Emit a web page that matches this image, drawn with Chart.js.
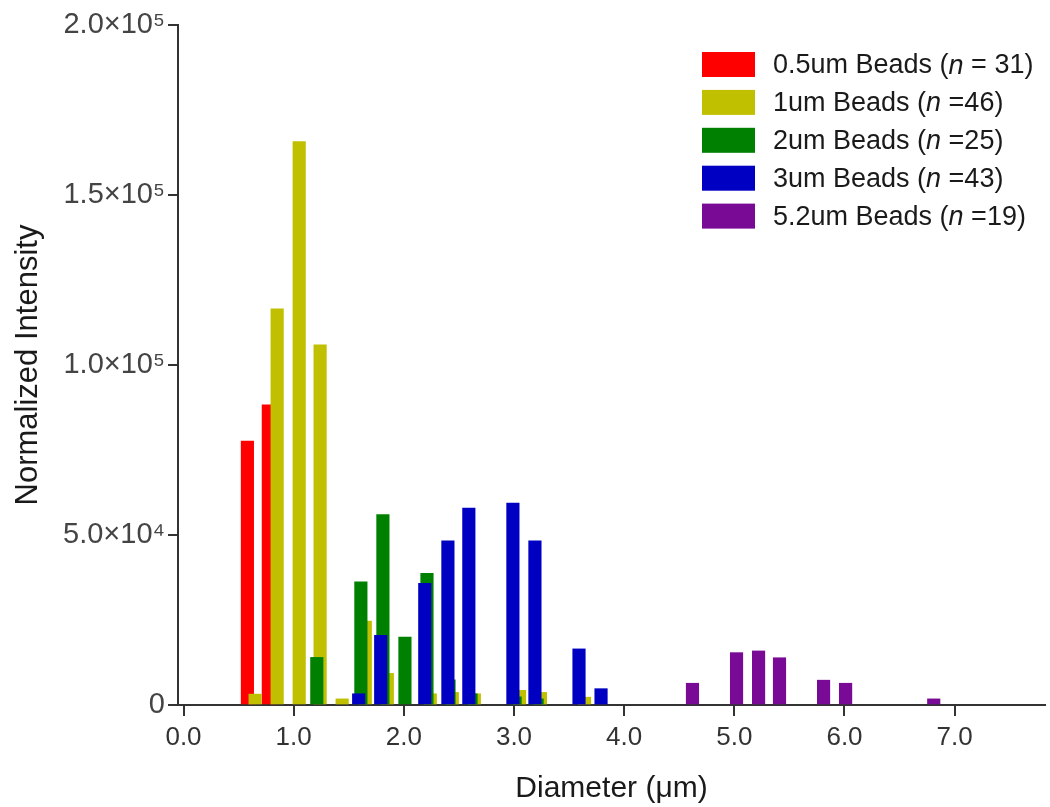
<!DOCTYPE html>
<html lang="en">
<head>
<meta charset="UTF-8">
<title>Bead diameter vs normalized intensity</title>
<style>
  body { margin: 0; background: #fff; }
  #wrap { width: 1050px; height: 807px; }
</style>
<script src="https://cdn.jsdelivr.net/npm/chart.js@4.4.6/dist/chart.umd.min.js"></script>
</head>
<body>
<div id="wrap"><canvas id="beadChart"></canvas></div>
<script>
// legend text and colours, one per bead size
const beadLabels = ['0.5um Beads', '1um Beads', '2um Beads', '3um Beads', '5.2um Beads'];
const beadCounts = [' = 31', ' =46', ' =25', ' =43', ' =19'];
const beadColors = ['#ff0000', '#c0bf00', '#008000', '#0000c2', '#780a96'];

// diameter (um) and normalized intensity for each series
const x05 = [0.58, 0.77];
const y05 = [77600, 88300];

const x1 = [0.65, 0.85, 1.05, 1.24, 1.44, 1.65, 1.85, 2.24, 2.44, 2.64, 3.05, 3.24, 3.64];
const y1 = [3200, 116500, 165700, 105900, 1800, 24700, 9300, 3300, 3700, 3300, 4300, 3700, 2300];

const x2 = [1.21, 1.61, 1.81, 2.01, 2.21, 2.41, 2.61, 3.01, 3.21];
const y2 = [14000, 36200, 56000, 20000, 38700, 7400, 3300, 2400, 1800];

const x3 = [1.59, 1.79, 2.19, 2.40, 2.59, 2.99, 3.19, 3.59, 3.79];
const y3 = [3300, 20500, 35800, 48300, 57900, 59400, 48300, 16500, 4800];

const x52 = [4.62, 5.02, 5.22, 5.41, 5.81, 6.01, 6.81];
const y52 = [6400, 15400, 15900, 13900, 7300, 6400, 1800];

const xTicks = [0, 1, 2, 3, 4, 5, 6, 7];
const yTicks = [0, 50000, 100000, 150000, 200000];
const yTickLabels = ['0', '5.0\u00d710\u2074', '1.0\u00d710\u2075', '1.5\u00d710\u2075', '2.0\u00d710\u2075'];

const allX = [x05, x1, x2, x3, x52];
const allY = [y05, y1, y2, y3, y52];

const FONT = '"Liberation Sans", Arial, sans-serif';

const datasets = allX.map((xs, k) => ({
    label: beadLabels[k],
    data: xs.map((x, i) => ({ x: x, y: allY[k][i] })),
    backgroundColor: beadColors[k],
    borderWidth: 0,
    barThickness: 12.5,
    grouped: false,
    order: 5 - k   // red at the back, purple in front
}));

// legend drawn by hand so the "n" can be italic
const italicLegend = {
    id: 'italicLegend',
    afterDraw(chart) {
        const ctx = chart.ctx;
        ctx.save();
        ctx.textBaseline = 'middle';
        beadLabels.forEach((lab, i) => {
            const top = 52 + i * 37.9;
            ctx.fillStyle = beadColors[i];
            ctx.fillRect(702, top, 53, 25);
            const y = top + 14;
            let x = 773;
            ctx.fillStyle = '#1a1a1a';
            ctx.font = '27px ' + FONT;
            const pre = lab + ' (';
            ctx.fillText(pre, x, y);
            x += ctx.measureText(pre).width;
            ctx.font = 'italic 27px ' + FONT;
            ctx.fillText('n', x, y);
            x += ctx.measureText('n').width;
            ctx.font = '27px ' + FONT;
            ctx.fillText(beadCounts[i] + ')', x, y);
        });
        ctx.restore();
    }
};

new Chart(document.getElementById('beadChart'), {
    type: 'bar',
    data: { datasets: datasets },
    plugins: [italicLegend],
    options: {
        responsive: true,
        maintainAspectRatio: false,
        animation: false,
        layout: { padding: { top: 25, right: 5, left: 0, bottom: 0 } },
        plugins: {
            legend: { display: false },
            tooltip: { enabled: false }
        },
        scales: {
            x: {
                type: 'linear',
                min: -0.05,
                max: 7.82,
                offset: false,
                afterBuildTicks: s => { s.ticks = xTicks.map(v => ({ value: v })); },
                afterFit: s => { s.height = 102; },
                ticks: {
                    callback: v => v.toFixed(1),
                    font: { family: FONT, size: 26 },
                    color: '#333',
                    padding: 6,
                    maxRotation: 0
                },
                grid: { offset: false, drawOnChartArea: false, drawTicks: true, tickLength: 11, color: '#333', lineWidth: 2 },
                border: { display: true, color: '#333', width: 2 },
                title: {
                    display: true,
                    text: 'Diameter (\u03bcm)',
                    font: { family: FONT, size: 30 },
                    color: '#1a1a1a',
                    padding: { top: 1, bottom: 0 }
                }
            },
            y: {
                min: 0,
                max: 200000,
                afterBuildTicks: s => { s.ticks = yTicks.map(v => ({ value: v })); },
                afterFit: s => { s.width = 178; },
                ticks: {
                    callback: (v) => yTickLabels[yTicks.indexOf(v)],
                    font: { family: FONT, size: 29 },
                    color: '#444',
                    padding: 3
                },
                grid: { drawOnChartArea: false, drawTicks: true, tickLength: 10, color: '#333', lineWidth: 2 },
                border: { display: true, color: '#333', width: 2 },
                title: {
                    display: true,
                    text: 'Normalized Intensity',
                    font: { family: FONT, size: 31 },
                    color: '#1a1a1a',
                    padding: { top: 10, bottom: 0 }
                }
            }
        }
    }
});
</script>
</body>
</html>
